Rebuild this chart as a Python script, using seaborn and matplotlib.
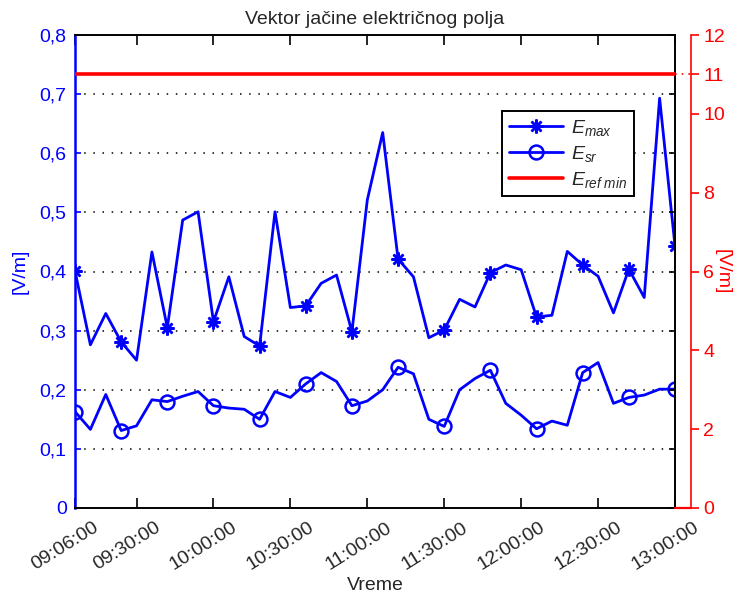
import numpy as np
import pandas as pd
import matplotlib
matplotlib.use('Agg')
import matplotlib.pyplot as plt
import matplotlib.transforms as mtransforms
from matplotlib.lines import Line2D
import seaborn as sns

# Mjerenja svakih 6 minuta, 09:06 - 13:00
times = pd.date_range("2000-01-01 09:06", "2000-01-01 13:00", freq="6min")

e_max = [0.401, 0.276, 0.329, 0.281, 0.250, 0.433, 0.305, 0.487, 0.501, 0.315,
         0.391, 0.290, 0.274, 0.501, 0.339, 0.342, 0.380, 0.394, 0.298, 0.521,
         0.635, 0.421, 0.391, 0.288, 0.301, 0.353, 0.340, 0.398, 0.411, 0.403,
         0.323, 0.326, 0.434, 0.411, 0.392, 0.330, 0.404, 0.356, 0.693, 0.443]

e_sr = [0.163, 0.133, 0.192, 0.131, 0.139, 0.183, 0.180, 0.189, 0.197, 0.173,
        0.169, 0.167, 0.150, 0.197, 0.187, 0.210, 0.229, 0.214, 0.173, 0.181,
        0.200, 0.238, 0.227, 0.150, 0.138, 0.200, 0.219, 0.233, 0.177, 0.157,
        0.134, 0.147, 0.140, 0.229, 0.246, 0.177, 0.187, 0.191, 0.201, 0.201]

e_ref_min = 11  # [V/m], desna osa

left_ticks = [0, 0.1, 0.2, 0.3, 0.4, 0.5, 0.6, 0.7, 0.8]
left_labels = ["0", "0,1", "0,2", "0,3", "0,4", "0,5", "0,6", "0,7", "0,8"]
right_ticks = [0, 2, 4, 6, 8, 10, 11, 12]
x_tick_labels = ["09:06:00", "09:30:00", "10:00:00", "10:30:00", "11:00:00",
                 "11:30:00", "12:00:00", "12:30:00", "13:00:00"]

df = pd.DataFrame({"time": times, "Emax": e_max, "Esr": e_sr})

sns.set_style("white")
plt.rcParams["font.family"] = ["Liberation Sans", "DejaVu Sans"]
plt.rcParams["mathtext.fontset"] = "custom"
plt.rcParams["mathtext.it"] = "Liberation Sans:italic"
plt.rcParams["mathtext.rm"] = "Liberation Sans"

BLUE = "#0000ff"
RED = "#ff0000"
FS = 14

fig = plt.figure(figsize=(7.34, 5.96), dpi=100)
ax = fig.add_axes([75 / 734, 1 - 508 / 596, 600 / 734, 473 / 596])

sns.lineplot(data=df, x="time", y="Emax", ax=ax, color=BLUE, lw=2.0,
             marker=(8, 2, 0), markersize=10, markeredgewidth=1.8,
             markeredgecolor=BLUE, markevery=3, label=r"$E_{max}$")
sns.lineplot(data=df, x="time", y="Esr", ax=ax, color=BLUE, lw=2.0,
             marker="o", markersize=10, markerfacecolor="none",
             markeredgewidth=1.8, markeredgecolor=BLUE, markevery=3,
             label=r"$E_{sr}$")

ax.set_xlim(times[0], times[-1])
ax.set_ylim(0, 0.8)
ax.set_yticks(left_ticks)
ax.set_yticklabels(left_labels)
xt = [pd.Timestamp("2000-01-01 " + t) for t in x_tick_labels]
ax.set_xticks(xt)
ax.set_xticklabels(x_tick_labels, rotation=32, ha="right",
                   rotation_mode="anchor")
ax.tick_params(axis="x", direction="in", length=7, width=1.2, top=True,
               bottom=True, color="black", labelsize=FS, pad=8)
ax.tick_params(axis="y", direction="in", length=4.5, width=1.2, left=True,
               right=False, color=BLUE, labelcolor=BLUE, labelsize=FS, pad=6)
ax.yaxis.grid(True, color="black", linestyle=(0, (1, 5)), linewidth=1.1)
ax.xaxis.grid(False)
for s in ["top", "right", "bottom"]:
    ax.spines[s].set_color("black")
    ax.spines[s].set_linewidth(1.4)
ax.spines["left"].set_color(BLUE)
ax.spines["left"].set_linewidth(1.8)
ax.set_xlabel("Vreme", fontsize=FS, labelpad=2)
ax.set_ylabel("[V/m]", fontsize=FS, color=BLUE, labelpad=8)
ax.set_title("Vektor jačine električnog polja", fontsize=FS, pad=8)
ax.get_legend().remove()

# crne unutrasnje crtice na desnoj strani glavne ose
ax3 = ax.twinx()
ax3.set_ylim(0, 0.8)
ax3.set_yticks(left_ticks)
ax3.tick_params(axis="y", direction="in", length=4.5, width=1.2, right=True,
                labelright=False, color="black")
for s in ax3.spines.values():
    s.set_visible(False)

# desna crvena osa
ax2 = ax.twinx()
ax2.set_ylim(0, 12)
ax2.axhline(e_ref_min, color=RED, lw=2.6, label=r"$E_{ref\ min}$")
ax2.set_yticks(right_ticks)
ax2.tick_params(axis="y", direction="out", length=6, width=1.2, colors=RED,
                labelsize=FS, pad=3)
for s in ["top", "left", "bottom"]:
    ax2.spines[s].set_visible(False)
ax2.spines["right"].set_position(("outward", 11.5))
ax2.spines["right"].set_color(RED)
ax2.spines["right"].set_linewidth(1.2)
ax2.set_ylabel("[V/m]", fontsize=FS, color=RED, rotation=270,
               va="center", ha="center")
ax2.yaxis.set_label_coords((722 - 75) / 600, 0.5)
ext = 16 / 600
ax2.add_line(Line2D([1, 1 + ext], [0, 0], transform=ax.transAxes, color=RED,
                    lw=1.6, clip_on=False))
ax2.add_line(Line2D([1, 1 + ext], [e_ref_min / 12] * 2, transform=ax.transAxes,
                    color=RED, lw=1.2, ls=(0, (1, 3)), clip_on=False))

handles = ax.get_lines()[:2] + [ax2.get_lines()[0]]
leg = ax2.legend(handles=handles, labels=[h.get_label() for h in handles],
                 loc="upper left", bbox_to_anchor=(0.712, 0.839),
                 fontsize=FS, frameon=True, fancybox=False, handlelength=2.8,
                 borderpad=0.35, labelspacing=0.3, handletextpad=0.4,
                 borderaxespad=0)
leg.get_frame().set_edgecolor("black")
leg.get_frame().set_linewidth(1.4)
leg.get_frame().set_alpha(1)

# pomjeri oznake vremena udesno (kao u MATLAB-u) - posle tick_params
shift = mtransforms.ScaledTranslation(18 / 100, 0, fig.dpi_scale_trans)
for tick in ax.xaxis.get_major_ticks():
    tick.label1.set_transform(tick.label1.get_transform() + shift)

fig.savefig("out.png", dpi=100)
plt.close(fig)
